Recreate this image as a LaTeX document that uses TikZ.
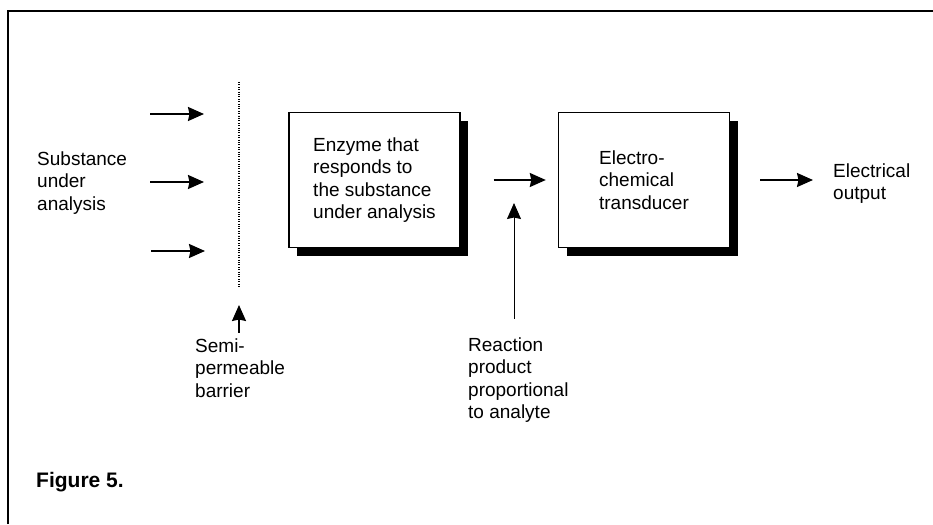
\documentclass[tikz,border=0pt]{standalone}
\usepackage{fontspec}
\setmainfont{Liberation Sans}
\usetikzlibrary{arrows.meta,shadows}

\begin{document}
\begin{tikzpicture}[
            x=1pt,
            y=-1pt,
            every node/.style={
                inner sep=0pt,
                align=left,
                font=\fontsize{19}{22.5}\selectfont
            },
            box/.style={
                draw=black,
                line width=1.4pt,
                fill=white,
                minimum width=171pt,
                minimum height=135pt,
                drop shadow={shadow xshift=8pt, shadow yshift=-8pt, opacity=1, fill=black}
            },
            arr/.style={line width=1.8pt, -{Stealth[length=16pt,width=14pt,inset=1.5pt]}},
            thinarr/.style={arr, line width=1pt}
        ]
        \useasboundingbox (0,0) rectangle (933,524);

        % Marco
        \draw[line width=2.5pt] (8,524) -- (8,11) -- (933,11);

        % Bloques
        \node[box] (enz)   at (374.5,180) {Enzyme that\\responds to\\the substance\\under analysis};
        \node[box] (trans) at (644,180)   {Electro-\\chemical\\transducer};

        % Textos
        \node[anchor=north west] (sub)  at (37,151.5)  {Substance\\under\\analysis};
        \node[anchor=north west] (semi) at (195,338.5) {Semi-\\permeable\\barrier};
        \node[anchor=north west] (reac) at (468,337.5) {Reaction\\product\\proportional\\to analyte};
        \node[anchor=north west] (out)  at (833,163.5) {Electrical\\output};
        \node[anchor=north west, font=\fontsize{21}{25}\selectfont\bfseries] (fig) at (36,472) {Figure 5.};

        % Puntos
        \coordinate (in1a) at (150,114);
        \coordinate (in1b) at (204,114);
        \coordinate (in2a) at (150,182);
        \coordinate (in2b) at (204,182);
        \coordinate (in3a) at (151,251);
        \coordinate (in3b) at (205,251);
        \coordinate (bartop) at (239,82);
        \coordinate (barbot) at (239,288);
        \coordinate (junc)   at (514,182);

        % Barrera
        \draw[line width=1.4pt, dash pattern=on 1pt off 1.4pt] (bartop) -- (barbot);

        % Flechas
        \draw[arr] (in1a) -- (in1b);
        \draw[arr] (in2a) -- (in2b);
        \draw[arr] (in3a) -- (in3b);
        \draw[arr, shorten <=6pt, shorten >=17pt] (semi.north -| barbot) -- (barbot);
        \draw[arr, shorten <=33pt, shorten >=12pt] (enz.east) -- (trans.west);
        \draw[thinarr, shorten <=19pt, shorten >=21pt] (reac.north -| junc) -- (junc);
        \draw[arr, shorten <=30pt, shorten >=20pt] (trans.east) -- (trans.east -| out.west);

        \end{tikzpicture}
\end{document}
